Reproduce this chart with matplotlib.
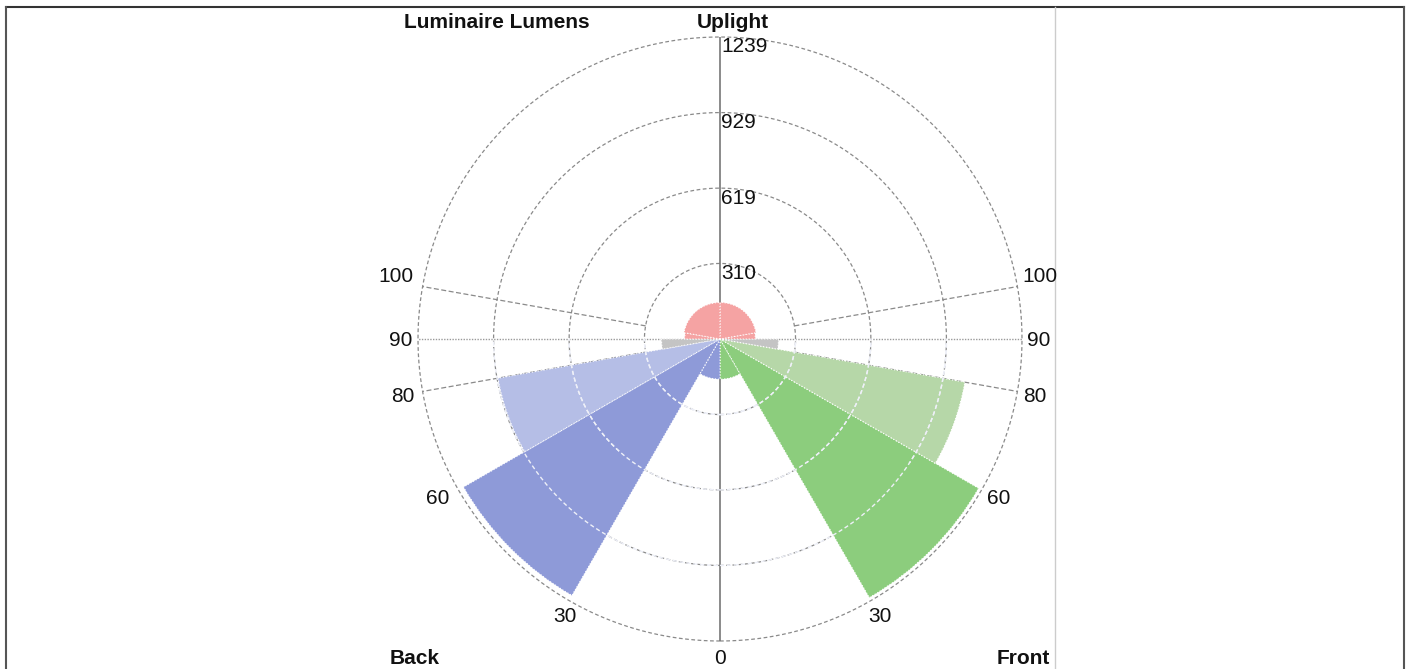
import matplotlib
matplotlib.use('Agg')
import matplotlib.pyplot as plt
from matplotlib.lines import Line2D
import numpy as np

# zone edges (degrees from nadir) and lumens per zone
front_edges = [0, 30, 60, 80, 90]
front_lumens = [165, 1225, 1020, 240]
back_edges = [0, 30, 60, 80, 90]
back_lumens = [165, 1215, 925, 240]
up_edges = [90, 100, 180]
up_lumens = [145, 150]

front_colors = ['#8ccd7d', '#8ccd7d', '#b6d7a8', '#c4c4c4']
back_colors = ['#8e9ad8', '#8e9ad8', '#b5bee6', '#c4c4c4']
up_colors = ['#f5a3a3', '#f5a3a3']

ring_values = [310, 619, 929, 1239]
ring_labels = ['310', '619', '929', '1239']
angle_ticks = [100, 90, 80, 60, 30]

W, H = 1408, 669
fig = plt.figure(figsize=(W / 100, H / 100), dpi=100)

# centre and radius of the polar plot in pixels
cx, cy, R = 720, 339, 302


def fx(px):
    return px / W


def fy(py):
    return 1 - py / H


ax = fig.add_axes([fx(cx - R), fy(cy + R), 2 * R / W, 2 * R / H], projection='polar')
ax.set_theta_zero_location('S')
ax.set_theta_direction(1)
ax.set_ylim(0, ring_values[-1])
ax.set_xticks([])
ax.set_yticks([])
ax.grid(False)
ax.spines['polar'].set_visible(False)
ax.patch.set_alpha(0)

rmax = ring_values[-1]
t = np.linspace(0, 2 * np.pi, 721)

# grid rings
for rv in ring_values:
    ax.plot(t, np.full_like(t, rv), color='#8a8a8a', lw=0.9, ls=(0, (3, 2)), zorder=1,
            clip_on=False)

# spokes
ax.plot([0, 0], [0, rmax], color='#777777', lw=1.2, zorder=1)
ax.plot([np.pi, np.pi], [0, rmax], color='#777777', lw=1.2, zorder=1)
ax.plot([np.pi / 2, np.pi / 2], [0, rmax], color='#9a9a9a', lw=1, ls=(0, (1, 1)), zorder=1)
ax.plot([-np.pi / 2, -np.pi / 2], [0, rmax], color='#9a9a9a', lw=1, ls=(0, (1, 1)), zorder=1)
for a in [80, 100]:
    for s in [1, -1]:
        ax.plot([s * np.deg2rad(a)] * 2, [ring_values[0], rmax], color='#8a8a8a', lw=0.9,
                ls=(0, (4, 2)), zorder=1)


def draw_zone(edges, lumens, colors, sign):
    for i in range(len(lumens)):
        a0 = np.deg2rad(edges[i]) * sign
        a1 = np.deg2rad(edges[i + 1]) * sign
        bars = ax.bar((a0 + a1) / 2, lumens[i], width=abs(a1 - a0), bottom=0,
                      color=colors[i], edgecolor='white', lw=0.8, ls=':', zorder=2)
        patch = bars[0]
        # rings show through the wedges as light dashes
        for rv in ring_values:
            if rv < lumens[i]:
                ln, = ax.plot(t, np.full_like(t, rv), color='#eef0f8', lw=1,
                              ls=(0, (3, 2)), zorder=3)
                ln.set_clip_path(patch)


draw_zone(front_edges, front_lumens, front_colors, 1)
draw_zone(back_edges, back_lumens, back_colors, -1)
draw_zone(up_edges, up_lumens, up_colors, 1)
draw_zone(up_edges, up_lumens, up_colors, -1)

num_font = dict(family=['Liberation Sans', 'DejaVu Sans'], fontsize=15, color='#111111')
bold_font = dict(family=['Liberation Sans', 'DejaVu Sans'], fontsize=15,
                 fontweight='bold', color='#111111')

# ring labels
for rv, lab in zip(ring_values, ring_labels):
    py = cy - R * rv / rmax + 10
    fig.text(fx(cx + 1), fy(py), lab, ha='left', va='center', **num_font)

# angle labels
left_pos = {100: (414, 277), 90: (412, 340), 80: (415, 397), 60: (449, 498), 30: (577, 617)}
right_pos = {100: (1022, 277), 90: (1027, 340), 80: (1023, 397), 60: (987, 498), 30: (868, 617)}
for a in angle_ticks:
    x, y = left_pos[a]
    fig.text(fx(x), fy(y), str(a), ha='right', va='center', **num_font)
    x, y = right_pos[a]
    fig.text(fx(x), fy(y), str(a), ha='left', va='center', **num_font)

fig.text(fx(720), fy(658), '0', ha='center', va='center', **num_font)
fig.text(fx(390), fy(658), 'Back', ha='left', va='center', **bold_font)
fig.text(fx(1050), fy(658), 'Front', ha='right', va='center', **bold_font)
fig.text(fx(404), fy(22), 'Luminaire Lumens', ha='left', va='center', **bold_font)
fig.text(fx(733), fy(22), 'Uplight', ha='center', va='center', **bold_font)

# frame lines
fig.add_artist(Line2D([fx(6), fx(1404)], [fy(7), fy(7)], color='#333333', lw=1.5))
fig.add_artist(Line2D([fx(6), fx(6)], [fy(7), 0], color='#555555', lw=1.5))
fig.add_artist(Line2D([fx(1404), fx(1404)], [fy(7), 0], color='#555555', lw=1.5))
fig.add_artist(Line2D([fx(1055), fx(1055)], [fy(7), 0], color='#cccccc', lw=1))

fig.savefig('out.png', dpi=100)
